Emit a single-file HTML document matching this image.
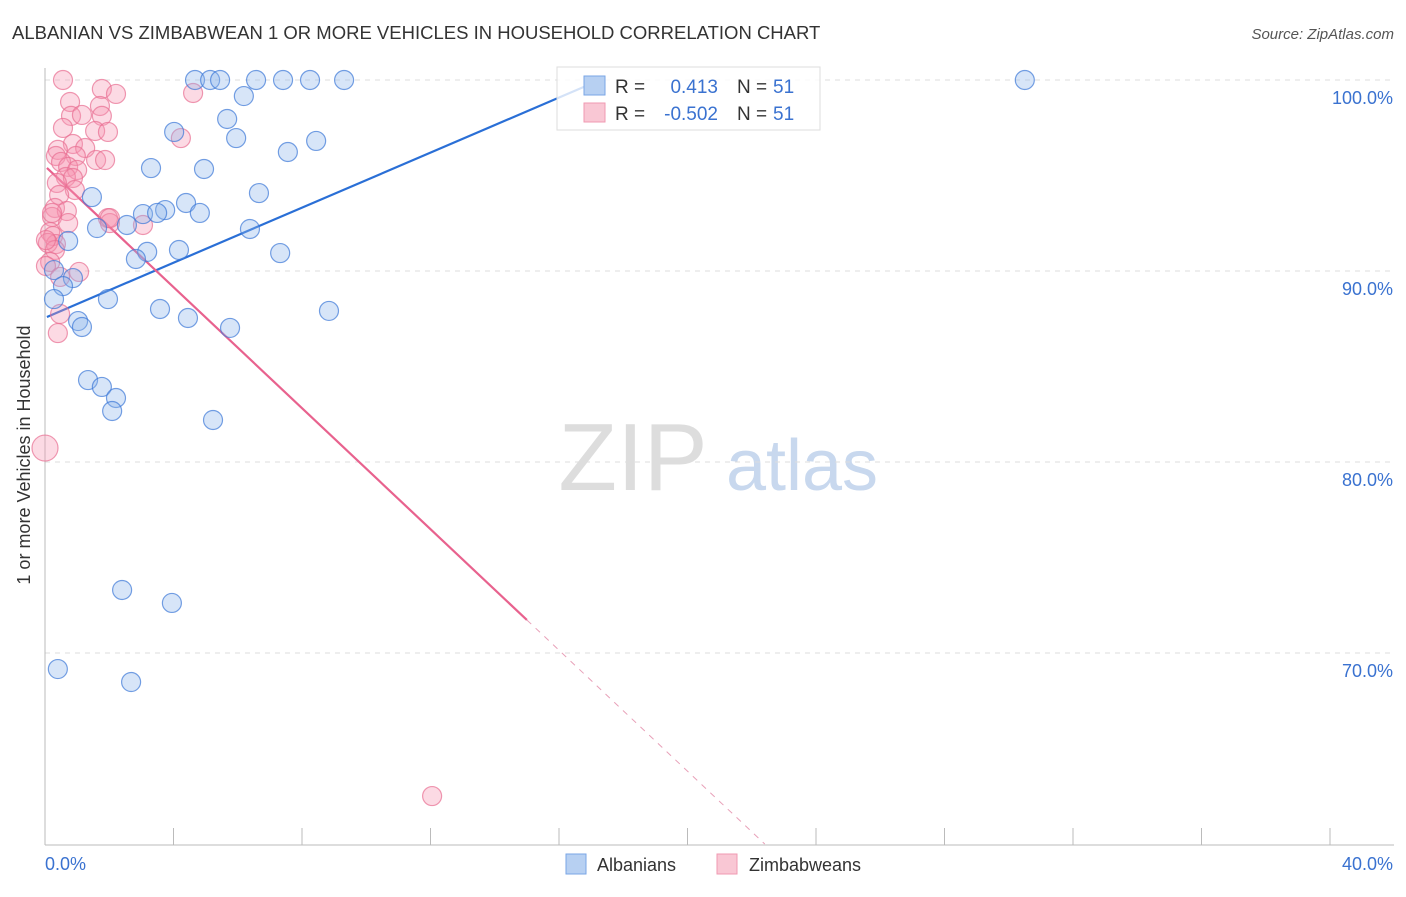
<!DOCTYPE html>
<html><head><meta charset="utf-8"><style>
body{margin:0;background:#fff;font-family:"Liberation Sans",sans-serif;}
svg text{font-family:"Liberation Sans",sans-serif;}
</style></head><body>
<svg id="c" width="1406" height="892">
<text x="12" y="39" font-size="18.5" fill="#333">ALBANIAN VS ZIMBABWEAN 1 OR MORE VEHICLES IN HOUSEHOLD CORRELATION CHART</text>
<text x="1394" y="39" font-size="15" fill="#555" font-style="italic" text-anchor="end">Source: ZipAtlas.com</text>
<text x="30" y="455" font-size="18" fill="#333" text-anchor="middle" transform="rotate(-90 30 455)">1 or more Vehicles in Household</text>
<g><text x="633" y="490" font-size="96" fill="#ddd" font-family="Liberation Serif,serif" text-anchor="middle">ZIP</text><text x="802" y="490" font-size="72" fill="#c8d8ee" text-anchor="middle">atlas</text></g>
<g id="grid"></g><g id="axes"></g><g id="lines"></g><g id="pts"></g>
<g>
<rect x="557" y="67" width="263" height="63" fill="rgba(255,255,255,0.8)" stroke="#ddd"/>
<rect x="584" y="76" width="21" height="19" fill="#b7d0f2" stroke="#7aa6e6"/>
<rect x="584" y="103" width="21" height="19" fill="#f9c7d4" stroke="#f09ab2"/>
<text x="615" y="93" font-size="19" fill="#333">R =</text><text x="718" y="93" font-size="19" fill="#3a72d0" text-anchor="end">0.413</text>
<text x="737" y="93" font-size="19" fill="#333">N =</text><text x="773" y="93" font-size="19" fill="#3a72d0">51</text>
<text x="615" y="120" font-size="19" fill="#333">R =</text><text x="718" y="120" font-size="19" fill="#3a72d0" text-anchor="end">-0.502</text>
<text x="737" y="120" font-size="19" fill="#333">N =</text><text x="773" y="120" font-size="19" fill="#3a72d0">51</text>
</g>
<g>
<rect x="566" y="854" width="20" height="20" fill="#b7d0f2" stroke="#7aa6e6"/>
<text x="597" y="871" font-size="18" fill="#333">Albanians</text>
<rect x="717" y="854" width="20" height="20" fill="#f9c7d4" stroke="#f09ab2"/>
<text x="749" y="871" font-size="18" fill="#333">Zimbabweans</text>
</g>
</svg>
<script>
const xTicks=[0,4,8,12,16,20,24,28,32,36,40];
const yTicks=[100,90,80,70];
const yTickLabels=["100.0%","90.0%","80.0%","70.0%"];
const blueX=[4.67,5.14,5.45,6.57,7.41,8.25,9.31,30.5,6.19,5.67,5.95,8.44,7.56,4.02,3.30,4.95,6.66,1.46,4.39,3.74,3.05,3.49,4.82,2.55,1.62,6.38,0.72,3.18,4.17,7.32,2.83,0.28,0.87,0.56,0.28,1.96,3.58,8.84,4.45,1.03,1.15,5.76,1.34,1.77,2.21,2.09,5.23,2.40,3.95,0.40,2.68];
const blueY=[100,100,100,100,100,100,100,100,99.16,97.96,96.96,96.81,96.23,97.28,95.39,95.34,94.08,93.87,93.56,93.19,92.98,93.04,93.04,92.41,92.25,92.2,91.57,91.0,91.1,90.94,90.63,90.05,89.63,89.21,88.53,88.53,88.01,87.91,87.54,87.38,87.07,87.02,84.29,83.93,83.35,82.67,82.2,73.3,72.62,69.16,68.48];
const pinkX=[0.56,4.61,1.77,2.21,0.78,1.71,0.81,1.15,1.77,0.56,1.56,1.96,4.23,0.87,0.40,1.25,0.34,0.96,0.50,1.59,1.87,0.72,1.0,0.65,0.87,0.37,0.93,0.44,0.31,0.68,1.96,0.22,0.72,3.05,2.02,0.16,0.25,0.34,0.09,0.31,0.16,1.06,0.03,0.47,0.47,0.40,0.0,12.05,0.22,0.03,2.02];
const pinkY=[100,99.32,99.53,99.27,98.85,98.64,98.12,98.17,98.12,97.49,97.33,97.28,96.96,96.65,96.34,96.44,96.02,96.02,95.71,95.81,95.81,95.45,95.29,94.92,94.87,94.61,94.24,93.98,93.3,93.14,92.77,92.83,92.51,92.41,92.51,92.04,91.83,91.41,91.47,91.1,90.47,89.95,90.26,89.69,87.75,86.75,80.73,62.51,93.04,91.62,92.77];
const blueFit=[87.55,0.7207];
const pinkFit=[95.49,-1.584];
const NS="http://www.w3.org/2000/svg";
const X=v=>45+v*32.125, Y=v=>80+(100-v)*19.1;
function mk(p,t,a){const e=document.createElementNS(NS,t);for(const k in a)e.setAttribute(k,a[k]);document.getElementById(p).appendChild(e);return e;}
yTicks.forEach((t,i)=>{
 const l=mk('grid','line',{x1:45,x2:1394,y1:Y(t),y2:Y(t),stroke:'#ddd','stroke-dasharray':'5,5'});
 
 
 const tx=mk('grid','text',{x:1393,y:Y(t)+24,'font-size':18,fill:'#3a72d0','text-anchor':'end'});tx.textContent=yTickLabels[i];
 
 
});
mk('axes','line',{x1:45,x2:45,y1:68,y2:845,stroke:'#bbb'});
const xa=mk('axes','line',{x1:45,x2:1394,y1:845,y2:845,stroke:'#bbb'});


xTicks.forEach(t=>{mk('axes','line',{x1:X(t),x2:X(t),y1:828,y2:845,stroke:'#bbb'});});
let t0=mk('axes','text',{x:45,y:870,'font-size':18,fill:'#3a72d0'});t0.textContent=xTicks[0].toFixed(1)+'%';


let t1=mk('axes','text',{x:1393,y:870,'font-size':18,fill:'#3a72d0','text-anchor':'end'});t1.textContent=xTicks[xTicks.length-1].toFixed(1)+'%';


function pts(xs,ys,fill,stroke,name){xs.forEach((x,i)=>{const c=mk('pts','circle',{cx:X(x),cy:Y(ys[i]),r:(x===0?13:9.5),fill:fill,stroke:stroke,'stroke-width':1.2});

});}
pts(pinkX,pinkY,'rgba(245,150,178,0.35)','rgba(232,110,145,0.7)','zimbabwean-point');
pts(blueX,blueY,'rgba(140,180,235,0.35)','rgba(60,120,215,0.7)','albanian-point');
const bx2=(100-blueFit[0])/blueFit[1];
const bl=mk('lines','line',{x1:X(0.06),y1:Y(blueFit[0]+blueFit[1]*0.06),x2:X(bx2),y2:Y(100),stroke:'#2a6fd6','stroke-width':2.2});


const pl=mk('lines','line',{x1:X(0.06),y1:Y(pinkFit[0]+pinkFit[1]*0.06),x2:X(15),y2:Y(pinkFit[0]+pinkFit[1]*15),stroke:'#e8628e','stroke-width':2.2});


const px3=(pinkFit[0]-60)/(-pinkFit[1]);
const pd=mk('lines','line',{x1:X(15),y1:Y(pinkFit[0]+pinkFit[1]*15),x2:X(px3),y2:Y(60),stroke:'#e8a0b8','stroke-width':1,'stroke-dasharray':'6,6'});


</script>
</body></html>
